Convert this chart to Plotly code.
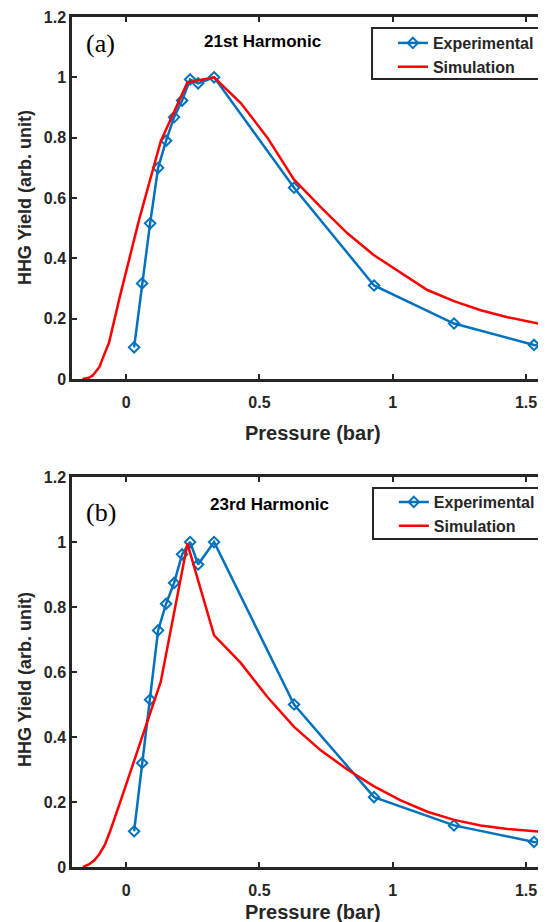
import plotly.graph_objects as go

# ---------------- data ----------------
exp_a_x = [0.03, 0.06, 0.09, 0.12, 0.15, 0.18, 0.21, 0.24, 0.27, 0.33, 0.63, 0.93, 1.23, 1.53, 1.83]
exp_a_y = [0.105, 0.317, 0.516, 0.70, 0.79, 0.868, 0.923, 0.993, 0.98, 1.0, 0.634, 0.31, 0.184, 0.113, 0.07]

sim_a_x = [-0.164, -0.14, -0.126, -0.1, -0.089, -0.064, -0.026, 0.011, 0.049, 0.13, 0.23, 0.33,
           0.43, 0.53, 0.63, 0.73, 0.83, 0.93, 1.03, 1.13, 1.23, 1.33, 1.43, 1.53, 1.63]
sim_a_y = [0.0, 0.004, 0.011, 0.04, 0.066, 0.121, 0.264, 0.397, 0.529, 0.788, 0.983, 1.0,
           0.915, 0.80, 0.661, 0.57, 0.483, 0.41, 0.352, 0.295, 0.258, 0.228, 0.205, 0.185, 0.168]

exp_b_x = [0.03, 0.06, 0.09, 0.12, 0.15, 0.18, 0.21, 0.24, 0.27, 0.33, 0.63, 0.93, 1.23, 1.53, 1.83]
exp_b_y = [0.11, 0.32, 0.515, 0.728, 0.81, 0.874, 0.962, 1.0, 0.931, 1.0, 0.50, 0.215, 0.128, 0.077, 0.06]

sim_b_x = [-0.162, -0.14, -0.12, -0.1, -0.08, -0.06, -0.02, 0.03, 0.08, 0.13, 0.23, 0.33,
           0.43, 0.53, 0.63, 0.73, 0.83, 0.93, 1.03, 1.13, 1.23, 1.33, 1.43, 1.53, 1.63]
sim_b_y = [0.0, 0.008, 0.02, 0.04, 0.068, 0.11, 0.205, 0.328, 0.451, 0.57, 0.995, 0.713,
           0.628, 0.523, 0.431, 0.359, 0.30, 0.248, 0.205, 0.17, 0.145, 0.128, 0.117, 0.109, 0.103]

x_ticks = [0, 0.5, 1, 1.5]
x_tick_text = ["0", "0.5", "1", "1.5"]
y_ticks = [0, 0.2, 0.4, 0.6, 0.8, 1.0, 1.2]
y_tick_text = ["0", "0.2", "0.4", "0.6", "0.8", "1", "1.2"]

panel_labels = ["(a)", "(b)"]
harmonic_titles = ["21st Harmonic", "23rd Harmonic"]
x_title = "Pressure (bar)"
y_title = "HHG Yield (arb. unit)"
series_names = ["Experimental", "Simulation"]

BLUE = "#0072BD"
RED = "#FF0000"
DARK = "#262626"
FONT = "Arial, Liberation Sans, sans-serif"

fig = go.Figure()

for i, (ex, ey, sx, sy) in enumerate([(exp_a_x, exp_a_y, sim_a_x, sim_a_y),
                                       (exp_b_x, exp_b_y, sim_b_x, sim_b_y)]):
    xa = "x" if i == 0 else "x2"
    ya = "y" if i == 0 else "y2"
    lg = "legend" if i == 0 else "legend2"
    fig.add_trace(go.Scatter(x=ex, y=ey, mode="lines+markers", name=series_names[0],
                             xaxis=xa, yaxis=ya, legend=lg,
                             line=dict(color=BLUE, width=2.5),
                             marker=dict(symbol="diamond-open", size=8, color=BLUE,
                                         line=dict(width=2, color=BLUE))))
    fig.add_trace(go.Scatter(x=sx, y=sy, mode="lines", name=series_names[1],
                             xaxis=xa, yaxis=ya, legend=lg,
                             line=dict(color=RED, width=2.5)))

axis_common = dict(showline=True, linecolor=DARK, linewidth=2.5, ticks="inside",
                   ticklen=5, tickwidth=1.5, tickcolor=DARK, showgrid=False, zeroline=False,
                   tickfont=dict(family=FONT, size=16, color=DARK, weight="bold"))

xr = [-0.203, 1.575]
fig.update_layout(
    xaxis=dict(domain=[0, 1], range=xr, anchor="y", tickvals=x_ticks, ticktext=x_tick_text,
               mirror="ticks", ticklabelstandoff=7, **axis_common),
    yaxis=dict(domain=[0.5741, 1], range=[0, 1.2], anchor="x", tickvals=y_ticks,
               ticktext=y_tick_text, **axis_common),
    xaxis2=dict(domain=[0, 1], range=xr, anchor="y2", tickvals=x_ticks, ticktext=x_tick_text,
                mirror="ticks", ticklabelstandoff=7, **axis_common),
    yaxis2=dict(domain=[0, 0.4588], range=[0, 1.2], anchor="x2", tickvals=y_ticks,
                ticktext=y_tick_text, **axis_common),
)

legend_common = dict(xref="paper", yref="paper", xanchor="left", yanchor="top",
                     bgcolor="rgba(0,0,0,0)", borderwidth=0,
                     font=dict(family=FONT, size=16, color=DARK, weight="bold"),
                     tracegroupgap=0, itemwidth=30)
fig.update_layout(
    legend=dict(x=0.677, y=0.9894, **legend_common),
    legend2=dict(x=0.679, y=0.4494, **legend_common),
)

shapes = [
    dict(type="rect", xref="paper", yref="paper", x0=0.633, x1=0.9937, y0=0.927, y1=0.987,
         line=dict(color=DARK, width=2), fillcolor="white", layer="above"),
    dict(type="rect", xref="paper", yref="paper", x0=0.635, x1=0.9958, y0=0.3859, y1=0.4459,
         line=dict(color=DARK, width=2), fillcolor="white", layer="above"),
]

annotations = []
lab_pos = [(0.061, 0.9694), (0.061, 0.4176)]
tit_pos = [(0.401, 0.9706), (0.417, 0.4259)]
for i in range(2):
    annotations.append(dict(text=panel_labels[i], x=lab_pos[i][0], y=lab_pos[i][1],
                            xref="paper", yref="paper", showarrow=False,
                            xanchor="center", yanchor="middle",
                            font=dict(family="Liberation Serif, Times New Roman, serif",
                                      size=26, color="black")))
    annotations.append(dict(text=harmonic_titles[i], x=tit_pos[i][0], y=tit_pos[i][1],
                            xref="paper", yref="paper", showarrow=False,
                            xanchor="center", yanchor="middle",
                            font=dict(family=FONT, size=17, color="black", weight="bold")))

xt_pos = [(0.508, 0.5106), (0.508, -0.053)]
yt_pos = [(-0.099, 0.787), (-0.099, 0.22)]
for i in range(2):
    annotations.append(dict(text=x_title, x=xt_pos[i][0], y=xt_pos[i][1],
                            xref="paper", yref="paper", showarrow=False,
                            xanchor="center", yanchor="middle",
                            font=dict(family=FONT, size=20, color=DARK, weight="bold")))
    annotations.append(dict(text=y_title, x=yt_pos[i][0], y=yt_pos[i][1],
                            xref="paper", yref="paper", showarrow=False, textangle=-90,
                            xanchor="center", yanchor="middle",
                            font=dict(family=FONT, size=18, color=DARK, weight="bold")))

# page body adds an 8px offset, so the figure is 8px smaller than the window
fig.update_layout(
    annotations=annotations,
    shapes=shapes,
    width=538, height=914,
    margin=dict(l=64, r=0, t=9, b=55),
    paper_bgcolor="white", plot_bgcolor="white",
    showlegend=True,
)

fig.write_html("out.html")
